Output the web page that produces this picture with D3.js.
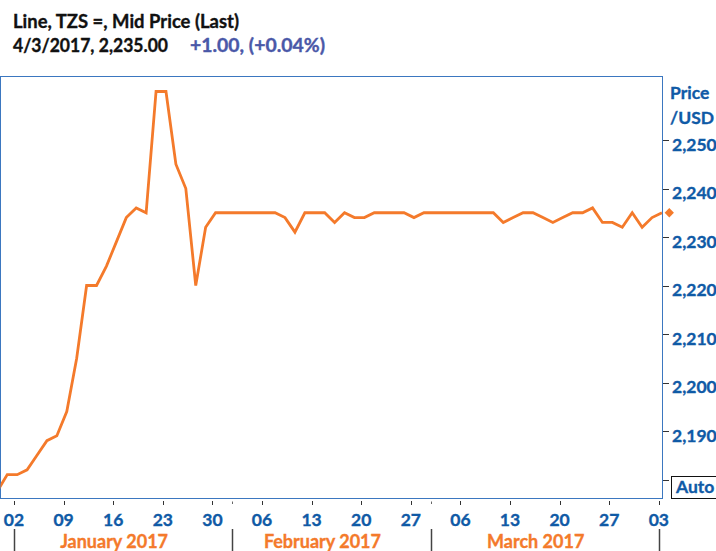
<!DOCTYPE html>
<html>
<head>
<meta charset="utf-8">
<script src="https://cdn.jsdelivr.net/npm/d3@7"></script>
<style>
  html, body { margin: 0; padding: 0; background: #ffffff; }
  svg { display: block; }
  text { font-family: Lato, "Open Sans", "Noto Sans", sans-serif; font-weight: 700; stroke-width: 0.35px; }
</style>
</head>
<body>
<div id="chart"></div>
<script>
// ---------- data ----------
const titleText = "Line, TZS =, Mid Price (Last)";
const lastText = "4/3/2017, 2,235.00";
const changeText = "+1.00, (+0.04%)";
const firstDate = "2016-12-29";   // first trading day in the series (weekdays only)
const axisStart = "2017-01-02";   // first labelled weekday on the axis
const axisEnd = "2017-04-03";
// Mid price, TZS per USD, one value per weekday from 29 Dec 2016 to 3 Apr 2017
const prices = [
  2177.6, 2181,                                   // Dec 29, 30
  2181, 2182, 2185, 2188, 2189,                   // Jan 2-6
  2194, 2205, 2220, 2220, 2224,                   // Jan 9-13
  2229, 2234, 2236, 2235, 2260,                   // Jan 16-20
  2260, 2245, 2240, 2220, 2232,                   // Jan 23-27
  2235, 2235, 2235, 2235, 2235,                   // Jan 30 - Feb 3
  2235, 2235, 2234, 2231, 2235,                   // Feb 6-10
  2235, 2235, 2233, 2235, 2234,                   // Feb 13-17
  2234, 2235, 2235, 2235, 2235,                   // Feb 20-24
  2234, 2235, 2235, 2235, 2235,                   // Feb 27 - Mar 3
  2235, 2235, 2235, 2235, 2233,                   // Mar 6-10
  2234, 2235, 2235, 2234, 2233,                   // Mar 13-17
  2234, 2235, 2235, 2236, 2233,                   // Mar 20-24
  2233, 2232, 2235, 2232, 2234,                   // Mar 27-31
  2235                                            // Apr 3
];
const yTicks = [2190, 2200, 2210, 2220, 2230, 2240, 2250];
const yAutoTick = 2180;
const dayTickDates = ["2017-01-02","2017-01-09","2017-01-16","2017-01-23","2017-01-30",
  "2017-02-06","2017-02-13","2017-02-20","2017-02-27",
  "2017-03-06","2017-03-13","2017-03-20","2017-03-27","2017-04-03"];
const months = [
  { label: "January 2017",  start: "2017-01-01", end: "2017-02-01" },
  { label: "February 2017", start: "2017-02-01", end: "2017-03-01" },
  { label: "March 2017",    start: "2017-03-01", end: "2017-04-01" }
];
const yAxisTitle = ["Price", "/USD"];

// ---------- setup ----------
const W = 716, H = 551;
const plot = { left: 0.5, top: 76.5, right: 662.5, bottom: 498.5 };
const parse = d3.timeParse("%Y-%m-%d");
const isWeekday = d => d.getDay() !== 0 && d.getDay() !== 6;
// weekday index relative to axisStart (non-weekday dates snap forward to next weekday)
const weekdayIndex = dateStr => {
  const d = parse(dateStr), a = parse(axisStart);
  if (d >= a) return d3.timeDay.range(a, d).filter(isWeekday).length;
  return -d3.timeDay.range(d, a).filter(isWeekday).length;
};

const blue = "#0f5aa6", orange = "#f47a2b", frameBlue = "#3b77c0";

const x = d3.scaleLinear()
  .domain([0, weekdayIndex(axisEnd)])
  .range([14, 658.8]);
const dataOffset = 0.32;  // data stamped later in the trading day than the tick
const y = d3.scaleLinear().domain([2180, 2250]).range([479.5, 140]);

const firstIdx = weekdayIndex(firstDate);
const series = prices.map((v, i) => ({ i: firstIdx + i, v }));

const svg = d3.select("#chart").append("svg").attr("width", W).attr("height", H);

// ---------- header ----------
svg.append("text").attr("x", 13).attr("y", 28).attr("font-size", 18.5)
  .attr("textLength", 226).attr("lengthAdjust", "spacingAndGlyphs")
  .attr("fill", "#111").attr("stroke", "#111").text(titleText);
svg.append("text").attr("x", 13).attr("y", 52).attr("font-size", 18.5)
  .attr("textLength", 155).attr("lengthAdjust", "spacingAndGlyphs")
  .attr("fill", "#111").attr("stroke", "#111").text(lastText);
svg.append("text").attr("x", 190).attr("y", 52).attr("font-size", 18.5)
  .attr("textLength", 135).attr("lengthAdjust", "spacingAndGlyphs")
  .attr("fill", "#4a58a8").attr("stroke", "#4a58a8").text(changeText);

// ---------- plot frame ----------
svg.append("defs").append("clipPath").attr("id", "clip")
  .append("rect").attr("x", plot.left).attr("y", plot.top)
  .attr("width", plot.right - plot.left).attr("height", plot.bottom - plot.top);

svg.append("rect").attr("x", plot.left).attr("y", plot.top)
  .attr("width", plot.right - plot.left).attr("height", plot.bottom - plot.top)
  .attr("fill", "#fff").attr("stroke", frameBlue).attr("stroke-width", 1);

// ---------- line ----------
const line = d3.line().x(d => x(d.i + dataOffset)).y(d => y(d.v));
svg.append("path").datum(series).attr("clip-path", "url(#clip)")
  .attr("d", line).attr("fill", "none").attr("stroke", orange)
  .attr("stroke-width", 2.8).attr("stroke-linejoin", "miter");

// last value diamond on axis
const last = series[series.length - 1];
svg.append("path").attr("d", d3.symbol(d3.symbolDiamond2 || d3.symbolDiamond, 55)())
  .attr("transform", `translate(669.3,${y(last.v)})`)
  .attr("fill", orange);

// ---------- right y axis ----------
const yAxisG = svg.append("g");
yAxisG.selectAll("line.yt").data(yTicks.concat([yAutoTick])).join("line")
  .attr("x1", plot.right + 0.5).attr("x2", 669)
  .attr("y1", d => Math.round(y(d)) + 0.5).attr("y2", d => Math.round(y(d)) + 0.5)
  .attr("stroke", "#333").attr("stroke-width", 1);
yAxisG.selectAll("text.yl").data(yTicks).join("text")
  .attr("x", 672).attr("y", d => y(d) + 10.5).attr("font-size", 17.5)
  .attr("fill", blue).attr("stroke", blue).text(d3.format(","));
yAxisG.selectAll("text.yt2").data(yAxisTitle).join("text")
  .attr("x", 670).attr("y", (d, i) => 98.5 + i * 25.7).attr("font-size", 17.5)
  .attr("fill", blue).attr("stroke", blue).text(d => d);
// Auto box
svg.append("rect").attr("x", 671.5).attr("y", 476.5).attr("width", 60).attr("height", 22)
  .attr("fill", "#fff").attr("stroke", "#111").attr("stroke-width", 1);
svg.append("text").attr("x", 676).attr("y", 492.5).attr("font-size", 17.5)
  .attr("fill", blue).attr("stroke", blue).text("Auto");

// ---------- x axis ----------
const fmtDay = d3.timeFormat("%d");
const xg = svg.append("g");
xg.selectAll("line.xt").data(dayTickDates).join("line")
  .attr("x1", d => Math.round(x(weekdayIndex(d))) + 0.5)
  .attr("x2", d => Math.round(x(weekdayIndex(d))) + 0.5)
  .attr("y1", 501).attr("y2", 505).attr("stroke", "#333");
// month boundary minor ticks
xg.selectAll("line.mt").data(months.slice(1)).join("line")
  .attr("x1", d => Math.round(x(weekdayIndex(d.start))) + 0.5)
  .attr("x2", d => Math.round(x(weekdayIndex(d.start))) + 0.5)
  .attr("y1", 501.5).attr("y2", 504).attr("stroke", "#666");
xg.selectAll("text.xl").data(dayTickDates).join("text")
  .attr("x", d => x(weekdayIndex(d))).attr("y", 525.5)
  .attr("text-anchor", "middle").attr("font-size", 17.5)
  .attr("fill", blue).attr("stroke", blue)
  .text(d => fmtDay(parse(d)));

// month separators
const sepDates = months.map(m => m.start).concat([months[months.length - 1].end]);
xg.selectAll("line.sep").data(sepDates).join("line")
  .attr("x1", d => Math.round(x(weekdayIndex(d))) + 0.5)
  .attr("x2", d => Math.round(x(weekdayIndex(d))) + 0.5)
  .attr("y1", 529).attr("y2", H).attr("stroke", "#444").attr("stroke-width", 1.5);
xg.selectAll("text.ml").data(months).join("text")
  .attr("x", d => (x(weekdayIndex(d.start)) + x(weekdayIndex(d.end))) / 2 - 9)
  .attr("y", 547.5).attr("text-anchor", "middle").attr("font-size", 18)
  .attr("fill", orange).attr("stroke", orange).text(d => d.label);
</script>
</body>
</html>
